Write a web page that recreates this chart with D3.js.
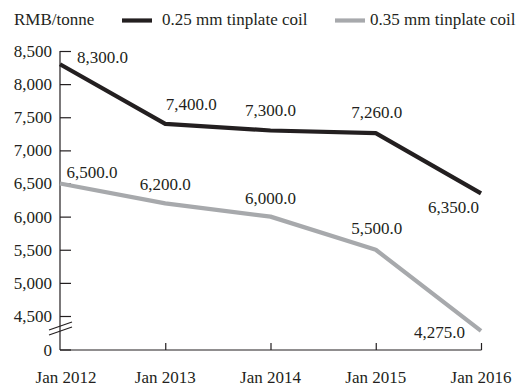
<!DOCTYPE html>
<html>
<head>
<meta charset="utf-8">
<script src="https://cdn.jsdelivr.net/npm/d3@7"></script>
<style>
  html, body { margin: 0; padding: 0; background: #fff; }
  svg text { font-family: "Liberation Serif", "Times New Roman", serif; fill: #231f20; }
</style>
</head>
<body>
<svg id="chart" width="518" height="386"></svg>
<script>
// Tinplate coil prices, RMB per tonne
const periods = ["Jan 2012", "Jan 2013", "Jan 2014", "Jan 2015", "Jan 2016"];
const coil025 = [8300, 7400, 7300, 7260, 6350];
const coil035 = [6500, 6200, 6000, 5500, 4275];
const yTicks = [4500, 5000, 5500, 6000, 6500, 7000, 7500, 8000, 8500];
const seriesNames = ["0.25 mm tinplate coil", "0.35 mm tinplate coil"];
const unitLabel = "RMB/tonne";

const colors = ["#231f20", "#a7a9ac"];
const fontSize = 17;

const svg = d3.select("#chart");
const plotLeft = 60, plotRight = 481, plotTop = 51, breakBottom = 316, plotBottom = 350;

const x = d3.scalePoint().domain(periods).range([plotLeft, plotRight]);
const y = d3.scaleLinear().domain([4500, 8500]).range([breakBottom, plotTop]);

// Y axis: ticks point inward, value scale broken between 0 and 4,500
const yAxis = d3.axisRight(y).tickValues(yTicks).tickSize(11).tickFormat("");
const gy = svg.append("g").attr("transform", `translate(${plotLeft},0)`).call(yAxis);
gy.select(".domain").remove();
gy.selectAll(".tick line").attr("stroke", "#231f20").attr("stroke-width", 1.2);
svg.append("line").attr("x1", plotLeft).attr("x2", plotLeft).attr("y1", plotTop).attr("y2", plotBottom)
  .attr("stroke", "#231f20").attr("stroke-width", 1.2);
// zero tick at the origin
svg.append("line").attr("x1", plotLeft).attr("x2", plotLeft + 11).attr("y1", plotBottom).attr("y2", plotBottom)
  .attr("stroke", "#231f20").attr("stroke-width", 1.2);

const fmt = d3.format(",");
svg.append("g").selectAll("text").data(yTicks).join("text")
  .attr("x", plotLeft - 8).attr("y", d => y(d)).attr("dy", "0.35em")
  .attr("text-anchor", "end").attr("font-size", fontSize)
  .text(d => fmt(d));
svg.append("text").attr("x", plotLeft - 8).attr("y", plotBottom).attr("dy", "0.35em")
  .attr("text-anchor", "end").attr("font-size", fontSize).text("0");

// Axis break marks
[0, 5].forEach(off => {
  svg.append("line")
    .attr("x1", plotLeft - 11).attr("y1", 333 + off - 3)
    .attr("x2", plotLeft + 12).attr("y2", 333 + off - 11)
    .attr("stroke", "#231f20").attr("stroke-width", 1.2);
});

// X axis: ticks point up
const xAxis = d3.axisTop(x).tickSize(7).tickFormat("");
const gx = svg.append("g").attr("transform", `translate(0,${plotBottom})`).call(xAxis);
gx.select(".domain").remove();
gx.selectAll(".tick line").attr("stroke", "#231f20").attr("stroke-width", 1.2);
gx.selectAll(".tick").filter(d => d === periods[0]).remove();
svg.append("line").attr("x1", plotLeft).attr("x2", plotRight + 0.5).attr("y1", plotBottom).attr("y2", plotBottom)
  .attr("stroke", "#231f20").attr("stroke-width", 1.2);

svg.append("g").selectAll("text").data(periods).join("text")
  .attr("x", (d, i) => x(d) + (i === 0 ? 6 : 0)).attr("y", 383)
  .attr("text-anchor", "middle").attr("font-size", fontSize)
  .text(d => d);

// Lines
const line = d3.line().x((d, i) => x(periods[i])).y(d => y(d));
[coil025, coil035].forEach((vals, k) => {
  svg.append("path").datum(vals).attr("d", line)
    .attr("fill", "none").attr("stroke", colors[k]).attr("stroke-width", 4.2)
    .attr("stroke-linejoin", "round").attr("stroke-linecap", "butt");
});

// Value labels: placement per point [dx, dy, anchor]
const place025 = [[17, -1, "start"], [26, -14, "middle"], [0, -15, "middle"], [1, -15, "middle"], [-2, 20, "end"]];
const place035 = [[32, -6, "middle"], [0, -13, "middle"], [0, -13, "middle"], [1, -16, "middle"], [-16, 7, "end"]];
[[coil025, place025], [coil035, place035]].forEach(([vals, pl]) => {
  svg.append("g").selectAll("text").data(vals).join("text")
    .attr("x", (d, i) => x(periods[i]) + pl[i][0])
    .attr("y", (d, i) => y(d) + pl[i][1])
    .attr("text-anchor", (d, i) => pl[i][2])
    .attr("font-size", fontSize)
    .text(d => d3.format(",.1f")(d));
});

// Legend
svg.append("text").attr("x", 14).attr("y", 25).attr("font-size", fontSize).text(unitLabel);
const legendX = [[122, 162], [335, 370]];
seriesNames.forEach((name, k) => {
  svg.append("line").attr("x1", legendX[k][0]).attr("x2", legendX[k][0] + 30)
    .attr("y1", 20.5).attr("y2", 20.5)
    .attr("stroke", colors[k]).attr("stroke-width", 4.2);
  svg.append("text").attr("x", legendX[k][1]).attr("y", 25)
    .attr("font-size", fontSize).text(name);
});
</script>
</body>
</html>
